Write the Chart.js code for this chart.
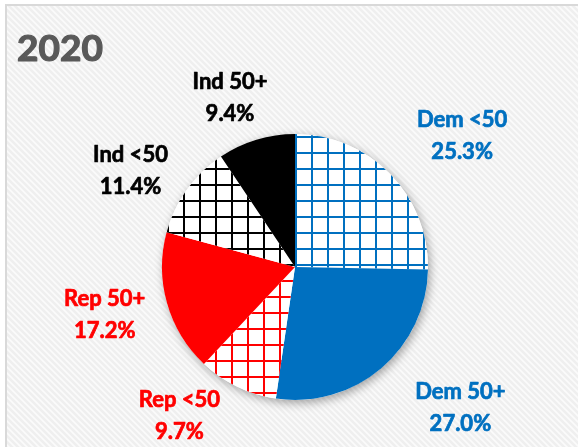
<!DOCTYPE html>
<html>
<head>
<meta charset="utf-8">
<script src="https://cdn.jsdelivr.net/npm/chart.js@4/dist/chart.umd.min.js"></script>
<style>
  html, body { margin: 0; padding: 0; background: #fff; }
  #wrap { width: 578px; height: 447px; }
</style>
</head>
<body>
<div id="wrap"><canvas id="pie" width="578" height="447"></canvas></div>
<script>
const categories = ['Dem <50', 'Dem 50+', 'Rep <50', 'Rep 50+', 'Ind <50', 'Ind 50+'];
const shares = [25.3, 27.0, 9.7, 17.2, 11.4, 9.4];
const partyColors = ['#0070C0', '#0070C0', '#FF0000', '#FF0000', '#000000', '#000000'];
const gridded = [true, false, true, false, true, false];
const title = '2020';

// label nudges from the radial spot (px)
const labelNudge = [[20, 13], [32, -16], [-26, -37], [8, -8], [3, 24], [-5, 28]];

function gridPattern(color) {
  const c = document.createElement('canvas');
  c.width = 16; c.height = 16;
  const g = c.getContext('2d');
  g.fillStyle = '#fff';
  g.fillRect(0, 0, 16, 16);
  g.fillStyle = color;
  g.fillRect(0, 0, 2, 16);
  g.fillRect(0, 0, 16, 2);
  const p = g.createPattern(c, 'repeat');
  p.setTransform(new DOMMatrix().translate(7, 8));
  return p;
}

function stripePattern() {
  const c = document.createElement('canvas');
  c.width = 6; c.height = 6;
  const g = c.getContext('2d');
  g.fillStyle = '#efefef';
  g.fillRect(0, 0, 6, 6);
  g.strokeStyle = '#fbfbfb';
  g.lineWidth = 1.6;
  g.beginPath();
  g.moveTo(-1, -1); g.lineTo(7, 7);
  g.moveTo(-4, 2); g.lineTo(4, 10);
  g.moveTo(2, -4); g.lineTo(10, 4);
  g.stroke();
  return g.createPattern(c, 'repeat');
}

// bold text with a hairline stroke so Lato reads as heavy as the original
function heavyText(ctx, text, x, y, color, w) {
  ctx.fillStyle = color;
  ctx.strokeStyle = color;
  ctx.lineWidth = w;
  ctx.lineJoin = 'round';
  ctx.strokeText(text, x, y);
  ctx.fillText(text, x, y);
}

const fills = partyColors.map((c, i) => gridded[i] ? gridPattern(c) : c);

const backdrop = {
  id: 'backdrop',
  beforeDraw(chart) {
    const ctx = chart.ctx;
    ctx.save();
    ctx.fillStyle = '#fff';
    ctx.fillRect(0, 0, chart.width, chart.height);
    ctx.fillStyle = stripePattern();
    ctx.fillRect(6, 5, chart.width, chart.height);
    ctx.strokeStyle = '#d9d9d9';
    ctx.lineWidth = 2;
    ctx.beginPath();
    ctx.moveTo(6, chart.height + 2);
    ctx.lineTo(6, 5);
    ctx.lineTo(chart.width + 2, 5);
    ctx.stroke();
    ctx.font = 'bold 37px Lato';
    ctx.textBaseline = 'alphabetic';
    heavyText(ctx, title, 17, 61, '#595959', 1.2);
    ctx.restore();
  },
  beforeDatasetsDraw(chart) {
    const arc = chart.getDatasetMeta(0).data[0];
    if (!arc) return;
    const ctx = chart.ctx;
    ctx.save();
    ctx.shadowColor = 'rgba(0,0,0,0.35)';
    ctx.shadowBlur = 10;
    ctx.shadowOffsetX = 2;
    ctx.shadowOffsetY = 3;
    ctx.fillStyle = '#fff';
    ctx.beginPath();
    ctx.arc(arc.x, arc.y, arc.outerRadius, 0, Math.PI * 2);
    ctx.fill();
    ctx.restore();
  }
};

const sliceLabels = {
  id: 'sliceLabels',
  afterDatasetsDraw(chart) {
    const ctx = chart.ctx;
    const meta = chart.getDatasetMeta(0);
    ctx.save();
    ctx.font = 'bold 22px Lato';
    ctx.textAlign = 'center';
    ctx.textBaseline = 'middle';
    meta.data.forEach((arc, i) => {
      const mid = (arc.startAngle + arc.endAngle) / 2;
      const d = arc.outerRadius * 1.55;
      const x = arc.x + Math.cos(mid) * d + labelNudge[i][0];
      const y = arc.y + Math.sin(mid) * d + labelNudge[i][1];
      heavyText(ctx, categories[i], x, y - 16, partyColors[i], 0.7);
      heavyText(ctx, shares[i].toFixed(1) + '%', x, y + 16, partyColors[i], 0.7);
    });
    ctx.restore();
  }
};

new Chart(document.getElementById('pie'), {
  type: 'pie',
  data: {
    labels: categories,
    datasets: [{
      data: shares,
      backgroundColor: fills,
      borderWidth: 0
    }]
  },
  options: {
    responsive: false,
    animation: false,
    layout: { padding: { left: 162, right: 150, top: 134, bottom: 47 } },
    plugins: {
      legend: { display: false },
      tooltip: { enabled: false }
    }
  },
  plugins: [backdrop, sliceLabels]
});
</script>
</body>
</html>
